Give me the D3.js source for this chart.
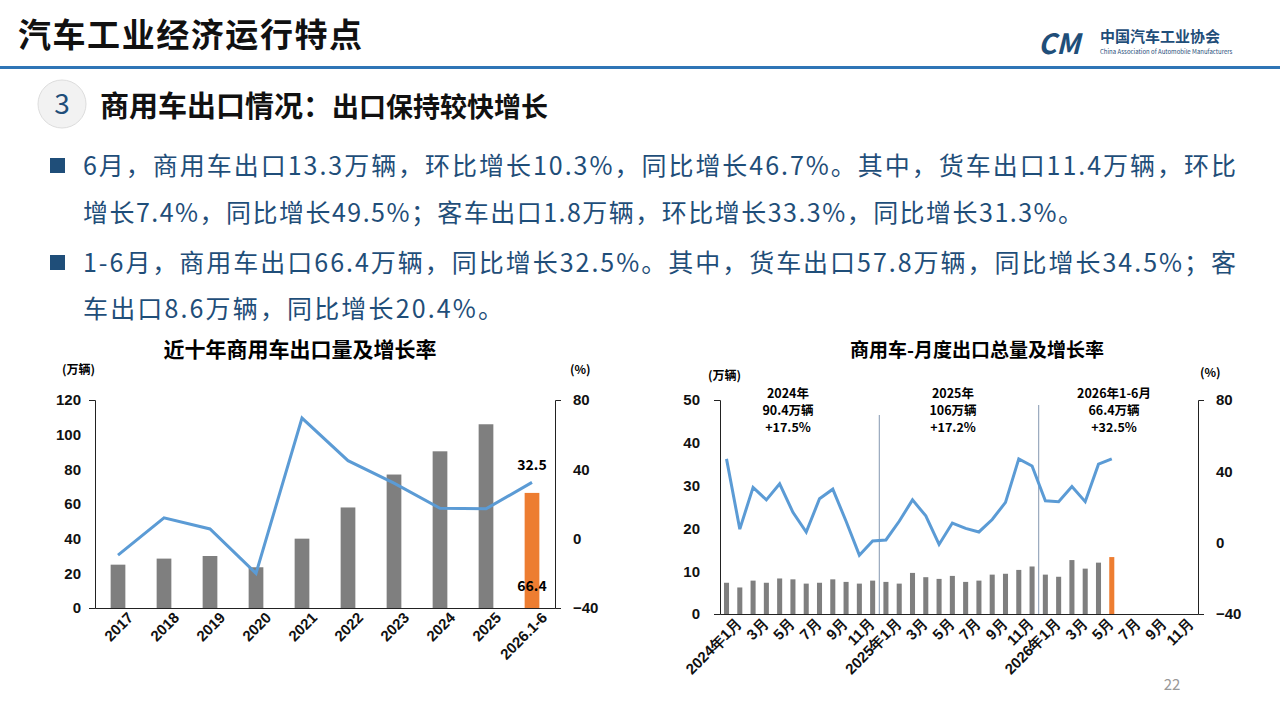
<!DOCTYPE html>
<html><head><meta charset="utf-8">
<script src="https://cdn.jsdelivr.net/npm/d3@7"></script>
<style>body{margin:0;background:#fff;font-family:"Noto Sans CJK SC","Noto Sans",sans-serif}</style>
</head><body>
<script>
// yearly data
var years = ["2017","2018","2019","2020","2021","2022","2023","2024","2025","2026.1-6"];
var yearVol = [25, 28.5, 30, 23.5, 40, 58, 77, 90.4, 106, 66.4];
var yearGrowth = [-9.5, 12, 5.6, -20, 69.6, 45, 32, 17.5, 17.2, 32.5];

// monthly data
var months = [];
["2024","2025","2026"].forEach(function (y) {
  for (var m = 1; m <= 12; m++) months.push(m == 1 ? y + "年1月" : m + "月");
});
var monthVol = [7.3, 6.2, 7.8, 7.3, 8.3, 8.1, 7.1, 7.3, 8.1, 7.5, 7.1, 7.8,
                7.5, 7.1, 9.6, 8.6, 8.2, 8.9, 7.5, 7.8, 9.2, 9.4, 10.3, 11.1,
                9.2, 8.7, 12.6, 10.6, 12.0, 13.3];
var monthGrowth = [47, 7.6, 31, 24, 33, 17, 6, 24.6, 30, 12, -7, 1,
                   1.5, 12, 24, 15, -1, 11, 8, 6, 13, 22.6, 47, 43,
                   23.5, 23, 31.5, 23, 44, 47];
var yearNotes = [["2024年", "90.4万辆", "+17.5%"], ["2025年", "106万辆", "+17.2%"], ["2026年1-6月", "66.4万辆", "+32.5%"]];

var svg = d3.select("body").append("svg").attr("width", 1280).attr("height", 719);
var blue = "#5b9bd5", grey = "#7f7f7f", orange = "#ed7d31", navy = "#1f4e79";

// header
svg.append("text").attr("x", 18).attr("y", 47).text("汽车工业经济运行特点").attr("textLength", 344)
  .style("font-size", "33px").style("font-weight", "bold").style("fill", "#111");
svg.append("rect").attr("x", 0).attr("y", 66).attr("width", 1280).attr("height", 3).style("fill", "#2e75b6");
svg.append("text").attr("x", 1100).attr("y", 42).text("中国汽车工业协会")
  .style("font-size", "15px").style("font-weight", "bold").style("fill", navy);
svg.append("text").attr("x", 1100).attr("y", 54).text("China Association of Automobile Manufacturers")
  .style("font-size", "6px").style("fill", navy);
svg.append("text").attr("x", 1038).attr("y", 54).text("CM")
  .style("font-size", "28px").style("font-weight", "bold").style("font-style", "italic").style("fill", navy);

svg.append("circle").attr("cx", 62).attr("cy", 104).attr("r", 24).style("fill", "#f2f2f2").style("stroke", "#ddd");
svg.append("text").attr("x", 62).attr("y", 114).attr("text-anchor", "middle").text("3")
  .style("font-size", "28px").style("fill", navy);
var st = svg.append("text").attr("x", 100).attr("y", 117).style("font-weight", "bold").style("fill", "#111");
st.append("tspan").text("商用车出口情况：").style("font-size", "29px");
st.append("tspan").text("出口保持较快增长").style("font-size", "27px");

var lines = [
  [175, "6月，商用车出口13.3万辆，环比增长10.3%，同比增长46.7%。其中，货车出口11.4万辆，环比", true, 1153],
  [222, "增长7.4%，同比增长49.5%；客车出口1.8万辆，环比增长33.3%，同比增长31.3%。", false, 1000],
  [272, "1-6月，商用车出口66.4万辆，同比增长32.5%。其中，货车出口57.8万辆，同比增长34.5%；客", true, 1153],
  [318, "车出口8.6万辆，同比增长20.4%。", false, 420]];
lines.forEach(function (l) {
  if (l[2]) svg.append("rect").attr("x", 50).attr("y", l[0] - 17).attr("width", 15).attr("height", 15).style("fill", navy);
  svg.append("text").attr("x", 83).attr("y", l[0]).text(l[1]).attr("textLength", l[3])
    .style("font-size", "25px").style("fill", navy);
});

function axisStyle(g) {
  g.selectAll("text").style("font-size", "15px").style("font-weight", "bold").style("fill", "#111");
  g.selectAll(".tick line").remove();
  g.select(".domain").style("stroke", "#222");
}

// ---------- left chart ----------
var L = {x0: 95, x1: 555, y0: 400, y1: 608};
svg.append("text").attr("x", 300).attr("y", 357).attr("text-anchor", "middle").text("近十年商用车出口量及增长率")
  .style("font-size", "21px").style("font-weight", "bold");
svg.append("text").attr("x", 62).attr("y", 374).text("(万辆)").style("font-size", "12px").style("font-weight", "bold");
svg.append("text").attr("x", 570).attr("y", 374).text("(%)").style("font-size", "12px").style("font-weight", "bold");

var lx = d3.scaleBand().domain(years).range([L.x0, L.x1]).paddingInner(0.68).paddingOuter(0.34);
var ly = d3.scaleLinear().domain([0, 120]).range([L.y1, L.y0]);
var lr = d3.scaleLinear().domain([-40, 80]).range([L.y1, L.y0]);

svg.selectAll(".lbar").data(yearVol).enter().append("rect")
  .attr("x", function (d, i) { return lx(years[i]); })
  .attr("y", function (d) { return ly(d); })
  .attr("width", lx.bandwidth())
  .attr("height", function (d) { return ly(0) - ly(d); })
  .style("fill", function (d, i) { return i == years.length - 1 ? orange : grey; });

var gl = svg.append("g").attr("transform", "translate(" + L.x0 + ",0)")
  .call(d3.axisLeft(ly).tickValues([0, 20, 40, 60, 80, 100, 120]).tickPadding(12));
axisStyle(gl);
gl.selectAll("text").attr("x", -14);
var gr = svg.append("g").attr("transform", "translate(" + L.x1 + ",0)")
  .call(d3.axisRight(lr).tickValues([-40, 0, 40, 80]).tickPadding(12));
axisStyle(gr);
var gb = svg.append("g").attr("transform", "translate(0," + L.y1 + ")").call(d3.axisBottom(lx).tickSize(0));
axisStyle(gb);
gb.selectAll("text").attr("transform", "rotate(-45)").attr("text-anchor", "end").attr("dx", "4px").attr("dy", "16px");

svg.append("path").datum(yearGrowth)
  .attr("d", d3.line().x(function (d, i) { return lx(years[i]) + lx.bandwidth() / 2; }).y(function (d) { return lr(d); }))
  .style("fill", "none").style("stroke", blue).style("stroke-width", 3);

var lastX = lx(years[9]) + lx.bandwidth() / 2;
svg.append("text").attr("x", lastX).attr("y", 470).attr("text-anchor", "middle").text("32.5")
  .style("font-size", "14px").style("font-weight", "bold");
svg.append("text").attr("x", lastX).attr("y", 591).attr("text-anchor", "middle").text("66.4")
  .style("font-size", "14px").style("font-weight", "bold");

// ---------- right chart ----------
var R = {x0: 720, x1: 1198, y0: 400, y1: 614};
svg.append("text").attr("x", 977).attr("y", 357).attr("text-anchor", "middle").text("商用车-月度出口总量及增长率")
  .style("font-size", "19px").style("font-weight", "bold");
svg.append("text").attr("x", 708).attr("y", 380).text("(万辆)").style("font-size", "12px").style("font-weight", "bold");
svg.append("text").attr("x", 1200).attr("y", 377).text("(%)").style("font-size", "12px").style("font-weight", "bold");

var rx = d3.scaleBand().domain(months.map(function (m, i) { return i; })).range([R.x0, R.x1]).paddingInner(0.62).paddingOuter(0.3);
var ry = d3.scaleLinear().domain([0, 50]).range([R.y1, R.y0]);
var rr = d3.scaleLinear().domain([-40, 80]).range([R.y1, R.y0]);

svg.selectAll(".rbar").data(monthVol).enter().append("rect")
  .attr("x", function (d, i) { return rx(i); })
  .attr("y", function (d) { return ry(d); })
  .attr("width", rx.bandwidth())
  .attr("height", function (d) { return ry(0) - ry(d); })
  .style("fill", function (d, i) { return i == monthVol.length - 1 ? orange : grey; });

var gl2 = svg.append("g").attr("transform", "translate(" + R.x0 + ",0)")
  .call(d3.axisLeft(ry).tickValues([0, 10, 20, 30, 40, 50]).tickPadding(14));
axisStyle(gl2);
var gr2 = svg.append("g").attr("transform", "translate(" + R.x1 + ",0)")
  .call(d3.axisRight(rr).tickValues([-40, 0, 40, 80]).tickPadding(12));
axisStyle(gr2);
var gb2 = svg.append("g").attr("transform", "translate(0," + R.y1 + ")")
  .call(d3.axisBottom(rx).tickSize(0).tickValues(d3.range(0, 36, 2)).tickFormat(function (i) { return months[i]; }));
axisStyle(gb2);
gb2.selectAll("text").attr("transform", "rotate(-45)").attr("text-anchor", "end").attr("dx", "4px").attr("dy", "16px");

// year separators
[12, 24].forEach(function (i) {
  var sx = (rx(i - 1) + rx.bandwidth() + rx(i)) / 2;
  svg.append("line").attr("x1", sx).attr("x2", sx).attr("y1", i == 12 ? 415 : 405).attr("y2", R.y1)
    .style("stroke", "#8497b0").style("stroke-width", 1);
});

svg.append("path").datum(monthGrowth)
  .attr("d", d3.line().x(function (d, i) { return rx(i) + rx.bandwidth() / 2; }).y(function (d) { return rr(d); }))
  .style("fill", "none").style("stroke", blue).style("stroke-width", 3);

yearNotes.forEach(function (n, k) {
  var cx = [788, 953, 1114][k];
  n.forEach(function (t, j) {
    svg.append("text").attr("x", cx).attr("y", 398 + j * 17).attr("text-anchor", "middle").text(t)
      .style("font-size", "12.5px").style("font-weight", "bold");
  });
});

svg.append("text").attr("x", 1172).attr("y", 690).attr("text-anchor", "middle").text("22")
  .style("font-size", "15px").style("fill", "#999");
</script>
</body></html>
